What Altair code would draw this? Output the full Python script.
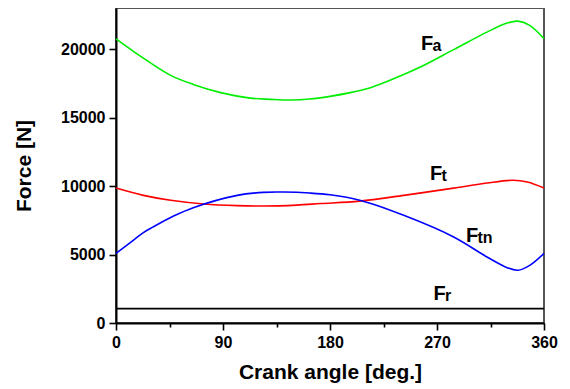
import altair as alt
import pandas as pd

# ---- data ----
fa_angle = [0, 23, 46, 65, 88, 113, 130, 147, 163, 180, 197, 214, 228, 256, 284, 312, 329, 338, 348, 360]
fa_force = [20750, 19340, 18080, 17420, 16820, 16420, 16330, 16280, 16350, 16550, 16820, 17180, 17640, 18690, 19960, 21240, 21900, 22040, 21730, 20750]

ft_angle = [0, 23, 46, 74, 102, 124, 152, 172, 205, 242, 284, 312, 334, 346, 360]
ft_force = [9850, 9320, 8960, 8690, 8570, 8540, 8610, 8720, 8900, 9320, 9850, 10220, 10420, 10290, 9850]

ftn_angle = [0, 14.5, 23, 31, 48, 65, 102, 124, 141, 163, 180, 205, 242, 284, 312, 329, 338, 348, 360]
ftn_force = [5080, 6040, 6600, 7000, 7790, 8420, 9320, 9540, 9560, 9490, 9360, 8960, 7860, 6280, 4820, 4040, 3850, 4210, 5080]

fr_angle = [0, 360]
fr_force = [1050, 1050]

series_names = ["Fa", "Ft", "Ftn", "Fr"]
series_colors = ["#00ee00", "#ff0000", "#0000ff", "#000000"]

label_x = [256.6, 264.2, 294.4, 267.0]
label_y = [19900, 10420, 5910, 1710]
label_main = ["F", "F", "F", "F"]
label_sub = ["a", "t", "tn", "r"]

# ---- build tables ----
rows = []
for name, angs, vals in [("Fa", fa_angle, fa_force), ("Ft", ft_angle, ft_force),
                         ("Ftn", ftn_angle, ftn_force), ("Fr", fr_angle, fr_force)]:
    for a, v in zip(angs, vals):
        rows.append({"series": name, "angle": a, "force": v})
df = pd.DataFrame(rows)

labels = pd.DataFrame({"x": label_x, "y": label_y, "main": label_main, "sub": label_sub})

FONT = "Liberation Sans"

x_scale = alt.Scale(domain=[0, 360], nice=False, zero=False)
y_scale = alt.Scale(domain=[0, 23000], nice=False)

x_axis = alt.Axis(
    title="Crank angle [deg.]",
    values=list(range(0, 361, 45)),
    labelExpr="datum.value % 90 === 0 ? datum.label : ''",
    tickSize={"condition": {"test": "datum.value % 90 === 0", "value": 7}, "value": 4},
    labelFlush=False,
    labelOverlap=False,
    grid=False,
)
y_axis = alt.Axis(
    title="Force [N]",
    values=list(range(0, 22501, 2500)),
    format="d",
    labelExpr="datum.value % 5000 === 0 ? datum.label : ''",
    tickSize={"condition": {"test": "datum.value % 5000 === 0", "value": 7}, "value": 4},
    labelFlush=False,
    labelOverlap=False,
    grid=False,
)

lines = alt.Chart(df).mark_line(strokeWidth=1.6, interpolate="catmull-rom").encode(
    x=alt.X("angle:Q", scale=x_scale, axis=x_axis),
    y=alt.Y("force:Q", scale=y_scale, axis=y_axis),
    color=alt.Color("series:N", scale=alt.Scale(domain=series_names, range=series_colors), legend=None),
    detail="series:N",
)

main_text = alt.Chart(labels).mark_text(
    align="left", baseline="alphabetic", font=FONT, fontWeight="bold", fontSize=20, color="black"
).encode(
    x=alt.X("x:Q", scale=x_scale),
    y=alt.Y("y:Q", scale=y_scale),
    text="main:N",
)

sub_text = alt.Chart(labels).mark_text(
    align="left", baseline="alphabetic", font=FONT, fontWeight="bold", fontSize=16, color="black", dx=11.5, dy=1
).encode(
    x=alt.X("x:Q", scale=x_scale),
    y=alt.Y("y:Q", scale=y_scale),
    text="sub:N",
)

chart = alt.layer(lines, main_text, sub_text).properties(
    width=428,
    height=315,
    autosize=alt.AutoSizeParams(type="none"),
    padding={"left": 108, "top": 0, "right": 18, "bottom": 66},
).configure_view(
    stroke="#555555", strokeWidth=2
).configure_axis(
    domainColor="black", domainWidth=2, tickColor="black", tickWidth=1.6,
    labelFont=FONT, labelFontWeight="bold", labelFontSize=16, labelColor="black",
    titleFont=FONT, titleFontWeight="bold", titleFontSize=21, titleColor="black",
    labelPadding=4,
).configure_axisX(
    titlePadding=11,
).configure_axisY(
    titlePadding=26,
)

chart.save("out.html", embed_options={"renderer": "svg", "actions": False})
